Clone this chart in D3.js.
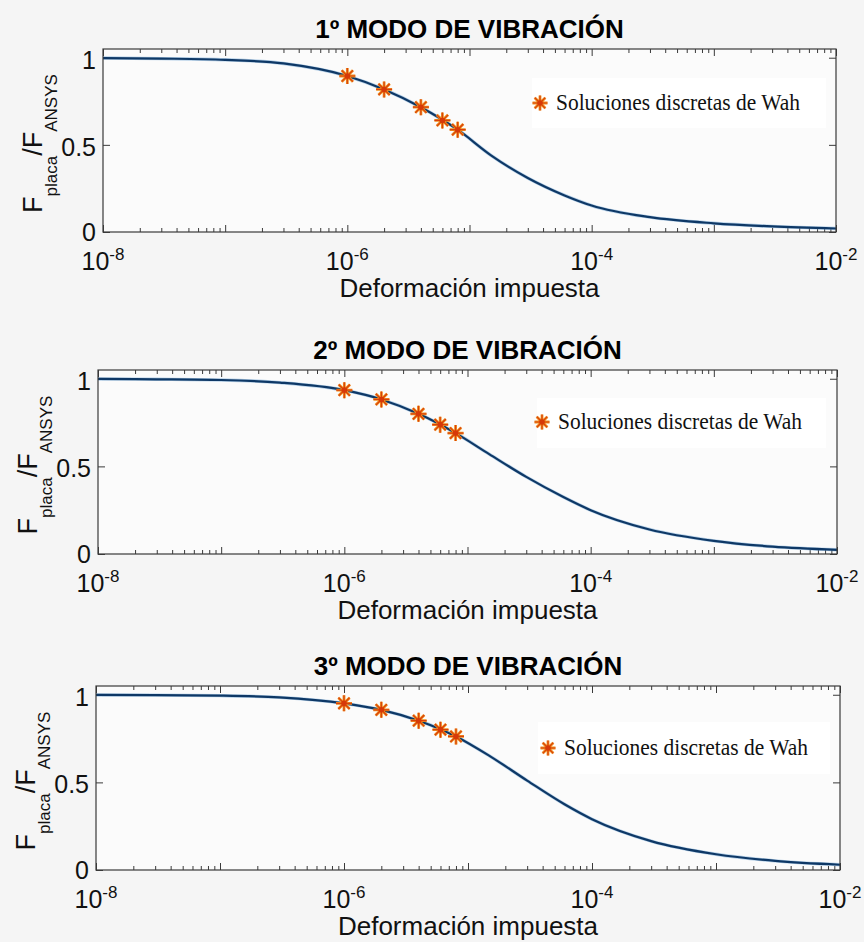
<!DOCTYPE html>
<html>
<head>
<meta charset="utf-8">
<script src="https://cdn.jsdelivr.net/npm/d3@7"></script>
<style>
  body { margin: 0; background: #f5f5f5; }
  svg { display: block; }
</style>
</head>
<body>
<svg id="chart" width="864" height="942"></svg>
<script>
// strain grid shared by the three ANSYS curves
const strain = [1e-8, 3e-8, 1e-7, 3e-7, 1e-6, 2e-6, 4e-6, 8e-6, 1.5e-5, 3e-5, 6e-5, 1e-4, 3e-4, 1e-3, 3e-3, 1e-2]
const curveMode1 = [0.998, 0.995, 0.988, 0.967, 0.895, 0.818, 0.716, 0.587, 0.44, 0.31, 0.21, 0.152, 0.085, 0.05, 0.032, 0.02]
const curveMode2 = [0.999, 0.997, 0.993, 0.978, 0.935, 0.882, 0.80, 0.69, 0.57, 0.44, 0.325, 0.25, 0.14, 0.075, 0.042, 0.024]
const curveMode3 = [0.999, 0.998, 0.995, 0.985, 0.951, 0.914, 0.852, 0.762, 0.65, 0.51, 0.375, 0.29, 0.165, 0.09, 0.052, 0.03]

// discrete solutions (Wah)
const wahStrain = [1e-6, 2e-6, 4e-6, 6e-6, 8e-6]
const wahMode1 = [0.895, 0.818, 0.716, 0.64, 0.587]
const wahMode2 = [0.935, 0.882, 0.80, 0.738, 0.69]
const wahMode3 = [0.951, 0.914, 0.852, 0.801, 0.762]

const titles = ['1º MODO DE VIBRACIÓN', '2º MODO DE VIBRACIÓN', '3º MODO DE VIBRACIÓN']
const xTickExps = [-8, -6, -4, -2]
const yTicks = [0, 0.5, 1]
const legendLabel = 'Soluciones discretas de Wah'
const xLabel = 'Deformación impuesta'

// layout of each panel (plot box + legend box)
const panels = [
    { title: titles[0], curve: curveMode1, wah: wahMode1,
      box: { l: 103, r: 836, t: 49, b: 232 },
      legend: { x: 532, y: 78, w: 294, h: 50, mx: 540, my: 103 } },
    { title: titles[1], curve: curveMode2, wah: wahMode2,
      box: { l: 98, r: 837, t: 370, b: 554 },
      legend: { x: 537, y: 398, w: 289, h: 50, mx: 542, my: 422 } },
    { title: titles[2], curve: curveMode3, wah: wahMode3,
      box: { l: 96, r: 840, t: 686, b: 870 },
      legend: { x: 538, y: 722, w: 292, h: 52, mx: 548, my: 748 } }
]

const svg = d3.select('#chart')
const sans = 'Liberation Sans, Arial, Helvetica, sans-serif'
const serif = 'Liberation Serif, Times New Roman, serif'
const axisColor = '#3a3a3a'

function drawStar (g, cx, cy, r) {
    let d = ''
    for (let k = 0; k < 4; k++) {
        let a = k * Math.PI / 4
        let dx = r * Math.cos(a)
        let dy = r * Math.sin(a)
        d += 'M' + (cx - dx) + ',' + (cy - dy) + 'L' + (cx + dx) + ',' + (cy + dy)
    }
    g.append('path').attr('d', d).attr('stroke', '#f0901f').attr('stroke-width', 2.8).attr('fill', 'none')
    g.append('path').attr('d', d).attr('stroke', '#d8400c').attr('stroke-width', 1.2).attr('fill', 'none')
    g.append('circle').attr('cx', cx).attr('cy', cy).attr('r', 2.8).attr('fill', '#d63a08')
}

panels.forEach(function (p) {
    let box = p.box
    let x = d3.scaleLog().domain([1e-8, 1e-2]).range([box.l, box.r])
    let y = d3.scaleLinear().domain([0, 1.05]).range([box.b, box.t])
    let g = svg.append('g')

    g.append('rect')
        .attr('x', box.l).attr('y', box.t)
        .attr('width', box.r - box.l).attr('height', box.b - box.t)
        .attr('fill', '#fbfbfb')

    g.append('rect')
        .attr('x', p.legend.x).attr('y', p.legend.y)
        .attr('width', p.legend.w).attr('height', p.legend.h)
        .attr('fill', '#ffffff')

    // ticks: minor + major on bottom and top, inward
    let all = x.ticks()
    let major = all.filter(d => Math.abs(Math.log10(d) - Math.round(Math.log10(d))) < 1e-9)
    let minor = all.filter(d => major.indexOf(d) < 0)
    let tickAxes = [
        [d3.axisBottom(x).tickValues(minor).tickSize(-4), box.b],
        [d3.axisBottom(x).tickValues(major).tickSize(-7), box.b],
        [d3.axisTop(x).tickValues(minor).tickSize(-4), box.t],
        [d3.axisTop(x).tickValues(major).tickSize(-7), box.t]
    ]
    tickAxes.forEach(function (ax) {
        g.append('g')
            .attr('transform', 'translate(0,' + ax[1] + ')')
            .call(ax[0].tickFormat(''))
            .call(s => s.select('.domain').remove())
            .selectAll('line').attr('stroke', axisColor)
    })
    g.append('g').attr('transform', 'translate(' + box.l + ',0)')
        .call(d3.axisLeft(y).tickValues(yTicks).tickSize(-7).tickFormat(''))
        .call(s => s.select('.domain').remove())
        .selectAll('line').attr('stroke', axisColor)
    g.append('g').attr('transform', 'translate(' + box.r + ',0)')
        .call(d3.axisRight(y).tickValues(yTicks).tickSize(-7).tickFormat(''))
        .call(s => s.select('.domain').remove())
        .selectAll('line').attr('stroke', axisColor)

    // curve
    let pts = strain.map((s, i) => [s, p.curve[i]])
    let line = d3.line().x(d => x(d[0])).y(d => y(d[1])).curve(d3.curveMonotoneX)
    g.append('path').datum(pts)
        .attr('d', line)
        .attr('fill', 'none')
        .attr('stroke', '#6fa6d6')
        .attr('stroke-width', 3.4)
        .attr('stroke-opacity', 0.5)
    g.append('path').datum(pts)
        .attr('d', line)
        .attr('fill', 'none')
        .attr('stroke', '#0e3866')
        .attr('stroke-width', 2.2)

    // Wah markers
    wahStrain.forEach(function (s, i) {
        drawStar(g, x(s), y(p.wah[i]), 8)
    })

    // box
    g.append('rect')
        .attr('x', box.l).attr('y', box.t)
        .attr('width', box.r - box.l).attr('height', box.b - box.t)
        .attr('fill', 'none').attr('stroke', axisColor).attr('stroke-width', 1.2)

    // legend
    drawStar(g, p.legend.mx, p.legend.my, 7.5)
    g.append('text')
        .attr('x', p.legend.mx + 16).attr('y', p.legend.my + 7)
        .attr('font-family', serif).attr('font-size', 23)
        .attr('textLength', 244).attr('lengthAdjust', 'spacingAndGlyphs')
        .attr('fill', '#111')
        .text(legendLabel)

    // x tick labels 10^n
    xTickExps.forEach(function (e) {
        let t = g.append('text')
            .attr('x', x(Math.pow(10, e))).attr('y', box.b + 38)
            .attr('text-anchor', 'middle')
            .attr('font-family', sans).attr('font-size', 25).attr('fill', '#111')
        t.append('tspan').text('10')
        t.append('tspan').attr('dy', -10).attr('font-size', 17).text('-' + Math.abs(e))
    })

    // y tick labels
    yTicks.forEach(function (v) {
        g.append('text')
            .attr('x', box.l - 7).attr('y', y(v) + (v === 0 ? 9 : 11))
            .attr('text-anchor', 'end')
            .attr('font-family', sans).attr('font-size', 25).attr('fill', '#111')
            .text(v)
    })

    // y label F_placa / F_ANSYS
    let ylab = g.append('text')
        .attr('transform', 'translate(' + (box.l - 61) + ',' + ((box.t + box.b) / 2 + 3) + ') rotate(-90)')
        .attr('text-anchor', 'middle')
        .attr('font-family', sans).attr('font-size', 27).attr('fill', '#111')
    ylab.append('tspan').text('F')
    ylab.append('tspan').attr('dy', 15).attr('font-size', 17).text('placa')
    ylab.append('tspan').attr('dy', -15).text('/F')
    ylab.append('tspan').attr('dy', 15).attr('font-size', 17).text('ANSYS')

    // x label
    g.append('text')
        .attr('x', (box.l + box.r) / 2).attr('y', box.b + 65)
        .attr('text-anchor', 'middle')
        .attr('font-family', sans).attr('font-size', 26).attr('fill', '#111')
        .text(xLabel)

    // title
    g.append('text')
        .attr('x', (box.l + box.r) / 2).attr('y', box.t - 11)
        .attr('text-anchor', 'middle')
        .attr('font-family', sans).attr('font-size', 26).attr('font-weight', 'bold').attr('fill', '#000')
        .text(p.title)
})
</script>
</body>
</html>
